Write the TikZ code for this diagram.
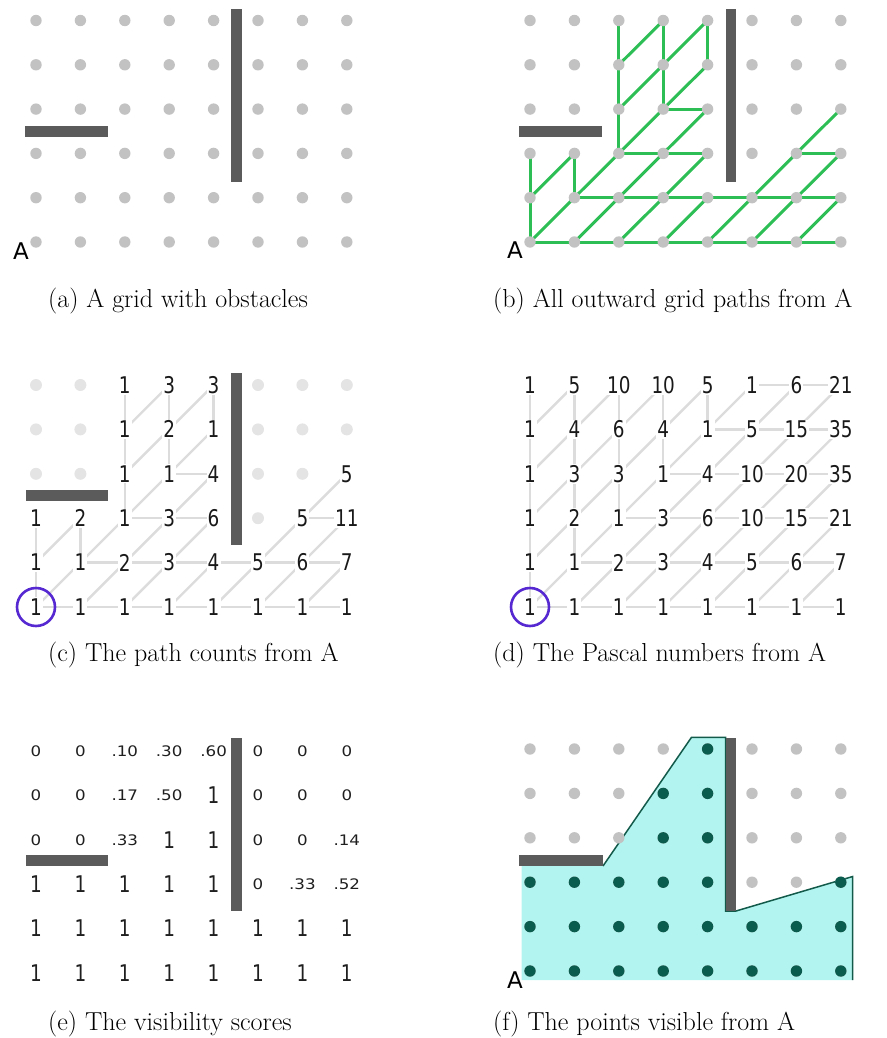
\documentclass[tikz,border=0pt]{standalone}
\usepackage{fontspec}
\newfontfamily\dvs{DejaVu Sans}
\definecolor{dotgray}{HTML}{C2C2C2}
\definecolor{fadedot}{HTML}{E4E4E4}
\definecolor{obstgray}{HTML}{5B5B5B}
\definecolor{pathgreen}{RGB}{45,190,85}
\definecolor{lightline}{HTML}{DCDCDC}
\definecolor{circpurple}{RGB}{85,40,210}
\definecolor{visfill}{RGB}{178,245,240}
\definecolor{visline}{RGB}{20,90,75}
\definecolor{visdot}{RGB}{10,92,78}
\newcommand\BigNum[1]{{\dvs\fontsize{23}{24}\selectfont\scalebox{0.8}[1]{#1}}}
\newcommand\SmallNum[1]{{\dvs\fontsize{14.5}{15}\selectfont\scalebox{1.15}[1]{#1}}}
\begin{document}
\begin{tikzpicture}[x=1pt,y=-1pt,
  obst/.style={fill=obstgray},
  gedge/.style={draw=pathgreen,line width=3pt},
  ledge/.style={draw=lightline,line width=2.4pt},
  numbox/.style={inner sep=1.2pt,fill=white,text=black!90},
  enumbox/.style={inner sep=0pt,text=black!88},
  captext/.style={font=\fontsize{26}{31}\selectfont,inner sep=0pt,anchor=base west},
  alabel/.style={font=\dvs\fontsize{23}{24}\selectfont,inner sep=0pt},
  startcirc/.style={draw=circpurple,line width=2.6pt}]
\useasboundingbox (0,0) rectangle (886,1038);
% grid coordinates
\foreach \i in {0,...,7}{
  \foreach \j in {0,...,5}{
    \coordinate (a\i\j) at ({36+44.4*\i},{242-44.3*\j});
    \coordinate (b\i\j) at ({530+44.4*\i},{242-44.3*\j});
    \coordinate (c\i\j) at ({36+44.4*\i},{607-44.4*\j});
    \coordinate (d\i\j) at ({530+44.4*\i},{607-44.4*\j});
    \coordinate (e\i\j) at ({36+44.4*\i},{973-44.4*\j});
    \coordinate (f\i\j) at ({530+44.4*\i},{971-44.4*\j});
  }}
\def\pathedges{00/10,10/20,20/30,30/40,40/50,50/60,60/70,
  11/21,21/31,31/41,41/51,51/61,61/71,
  22/32,32/42,62/72,33/43,
  00/01,01/02,11/12,22/23,23/24,24/25,33/34,34/35,44/45,
  00/11,10/21,20/31,30/41,40/51,50/61,60/71,
  01/12,11/22,21/32,31/42,51/62,61/72,
  22/33,32/43,62/73,23/34,33/44,24/35,34/45}
% ---------- (a)
\foreach \i in {0,...,7}{\foreach \j in {0,...,5}{\fill[dotgray] (a\i\j) circle (5.7);}}
\fill[obst] (25,126) rectangle (108,137);
\fill[obst] (231,9) rectangle (242,182);
\node[alabel] (Aa) at ([xshift=-15pt,yshift=-9pt]a00) {A};
\node[captext] (capa) at (48,307) {(a) A grid with obstacles};
% ---------- (b)
\foreach \s/\t in \pathedges {\draw[gedge] (b\s) -- (b\t);}
\foreach \i in {0,...,7}{\foreach \j in {0,...,5}{\fill[dotgray] (b\i\j) circle (5.7);}}
\fill[obst] (519,126) rectangle (602,137);
\fill[obst] (725.5,9) rectangle (736,182);
\node[alabel] (Ab) at ([xshift=-15pt,yshift=-8pt]b00) {A};
\node[captext] (capb) at (493,307) {(b) All outward grid paths from A};
% ---------- (c)
\foreach \s/\t in \pathedges {\draw[ledge] (c\s) -- (c\t);}
\foreach \p in {05,15,55,65,75,04,14,54,64,74,03,13,53,63,52}{\fill[fadedot] (c\p) circle (6);}
\foreach \i/\j/\v in {2/5/1,3/5/3,4/5/3,2/4/1,3/4/2,4/4/1,2/3/1,3/3/1,4/3/4,7/3/5,
  0/2/1,1/2/2,2/2/1,3/2/3,4/2/6,6/2/5,7/2/11,
  0/1/1,1/1/1,2/1/2,3/1/3,4/1/4,5/1/5,6/1/6,7/1/7,
  0/0/1,1/0/1,2/0/1,3/0/1,4/0/1,5/0/1,6/0/1,7/0/1}
  {\node[numbox] (cn\i\j) at (c\i\j) {\BigNum{\v}};}
\fill[obst] (26,490) rectangle (108,501);
\fill[obst] (231,373) rectangle (242,545);
\draw[startcirc] (c00) circle (19);
\node[captext] (capc) at (48,661) {(c) The path counts from A};
% ---------- (d)
\foreach \i in {0,...,4}{\foreach \j in {\i,...,4}{
  \pgfmathtruncatemacro\jj{\j+1}\draw[ledge] (d\i\j) -- (d\i\jj);}}
\foreach \j in {0,...,5}{\foreach \i in {\j,...,6}{
  \pgfmathtruncatemacro\ii{\i+1}\draw[ledge] (d\i\j) -- (d\ii\j);}}
\foreach \i in {0,...,6}{\foreach \j in {0,...,4}{
  \pgfmathtruncatemacro\ii{\i+1}\pgfmathtruncatemacro\jj{\j+1}\draw[ledge] (d\i\j) -- (d\ii\jj);}}
\foreach \j/\row in {5/{1,5,10,10,5,1,6,21},4/{1,4,6,4,1,5,15,35},3/{1,3,3,1,4,10,20,35},
  2/{1,2,1,3,6,10,15,21},1/{1,1,2,3,4,5,6,7},0/{1,1,1,1,1,1,1,1}}{
  \foreach \v [count=\k from 0] in \row {\node[numbox] (dn\k\j) at (d\k\j) {\BigNum{\v}};}}
\draw[startcirc] (d00) circle (19);
\node[captext] (capd) at (493,661) {(d) The Pascal numbers from A};
% ---------- (e)
\foreach \i/\j in {0/0,1/0,2/0,3/0,4/0,5/0,6/0,7/0,0/1,1/1,2/1,3/1,4/1,5/1,6/1,7/1,
  0/2,1/2,2/2,3/2,4/2,3/3,4/3,4/4}{\node[enumbox] (en\i\j) at (e\i\j) {\BigNum{1}};}
\foreach \i/\j/\v in {0/5/0,1/5/0,2/5/.10,3/5/.30,4/5/.60,5/5/0,6/5/0,7/5/0,
  0/4/0,1/4/0,2/4/.17,3/4/.50,5/4/0,6/4/0,7/4/0,
  0/3/0,1/3/0,2/3/.33,5/3/0,6/3/0,7/3/.14,
  5/2/0,6/2/.33,7/2/.52}{\node[enumbox] (en\i\j) at (e\i\j) {\SmallNum{\v}};}
\fill[obst] (26,855) rectangle (108,866);
\fill[obst] (231,738) rectangle (242,911);
\node[captext] (cape) at (48,1030) {(e) The visibility scores};
% ---------- (f)
\fill[visfill] (521.7,980) -- (521.7,866) -- (603,866) -- (691.5,737.3) -- (725.5,737.3)
  -- (725.5,911) -- (736,911) -- (852.7,876.5) -- (852.7,980) -- cycle;
\draw[visline,line width=1.5pt,line join=miter] (603,866) -- (691.5,737.3) -- (725.5,737.3)
  -- (725.5,911) -- (736,911) -- (852.7,876.5) -- (852.7,980);
\foreach \i in {0,...,7}{\foreach \j in {0,...,5}{\fill[dotgray] (f\i\j) circle (5.7);}}
\foreach \p in {00,10,20,30,40,50,60,70,01,11,21,31,41,51,61,71,02,12,22,32,42,72,33,43,34,44,45}
  {\fill[visdot] (f\p) circle (5.7);}
\fill[obst] (519,855) rectangle (603,866);
\fill[obst] (725.5,738) rectangle (736,911);
\node[alabel] (Af) at ([xshift=-15pt,yshift=-9pt]f00) {A};
\node[captext] (capf) at (493,1030) {(f) The points visible from A};
\end{tikzpicture}
\end{document}
